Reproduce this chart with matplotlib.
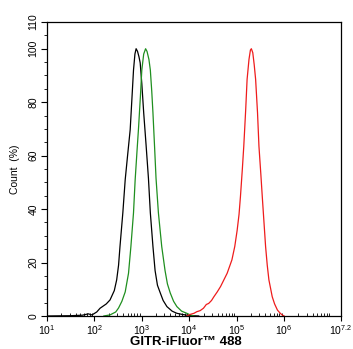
import numpy as np
import matplotlib
matplotlib.use("Agg")
import matplotlib.pyplot as plt
from matplotlib.ticker import FixedLocator, FixedFormatter, LogLocator, MultipleLocator, NullFormatter

plt.rcParams['font.family'] = ['Liberation Sans', 'DejaVu Sans']
plt.rcParams['mathtext.fontset'] = 'custom'
plt.rcParams['mathtext.rm'] = 'Liberation Sans'
plt.rcParams['mathtext.it'] = 'Liberation Sans'

# Data (x as log10 fluorescence, y as Count %)
black_log10 = [1.0, 1.5, 1.75, 1.87, 1.95, 2.05, 2.12, 2.25, 2.33, 2.42, 2.47, 2.51, 2.54, 2.60, 2.65, 2.70,
               2.755, 2.80, 2.825, 2.855, 2.88, 2.91, 2.94, 2.966, 3.00, 3.04, 3.09, 3.14, 3.18, 3.235,
               3.28, 3.33, 3.39, 3.45, 3.53, 3.64, 3.74, 3.85, 3.95, 4.05, 4.2]
black_count = [0, 0.1, 0.3, 0.8, 0.4, 1.5, 2.9, 4.5, 6, 9.5, 13.5, 19, 26, 38.6, 51, 60,
               69.7, 84, 92, 98, 100, 99, 97, 94.7, 87, 76, 64, 51.5, 38.6, 26,
               17, 11.5, 8.6, 5.8, 3.5, 1.8, 1.0, 0.6, 0.3, 0.1, 0]

green_log10 = [2.2, 2.33, 2.45, 2.51, 2.58, 2.65, 2.72, 2.77, 2.825, 2.86, 2.90, 2.93, 2.97, 3.00, 3.04,
               3.08, 3.11, 3.15, 3.18, 3.21, 3.235, 3.27, 3.30, 3.35, 3.42, 3.49, 3.54, 3.60, 3.67,
               3.74, 3.84, 3.95, 4.02, 4.1]
green_count = [0, 0.4, 1.5, 3, 5.5, 9, 16, 26, 38.6, 51, 62, 70, 82, 92, 98,
               100, 99, 96, 92, 84, 76, 63, 51.5, 38.6, 26, 17, 12, 8.6, 5.5,
               3.5, 1.8, 1.0, 0.4, 0]

red_log10 = [3.95, 4.02, 4.10, 4.16, 4.23, 4.30, 4.36, 4.41, 4.47, 4.52, 4.59, 4.66, 4.73, 4.80, 4.85,
             4.90, 4.96, 5.01, 5.05, 5.08, 5.12, 5.15, 5.19, 5.22, 5.26, 5.29, 5.31, 5.34, 5.37,
             5.40, 5.44, 5.47, 5.51, 5.54, 5.58, 5.61, 5.645, 5.68, 5.75, 5.80, 5.86, 5.92, 5.96, 6.0]
red_count = [0, 0.6, 1.0, 1.6, 2.0, 2.9, 4.3, 4.7, 5.8, 7.2, 9, 11, 13.5, 16, 18.5,
             21, 26, 32, 38, 44.7, 55, 63.5, 77, 88.5, 96, 99.5, 100, 98.5, 94,
             88.5, 76, 63.5, 53, 44.7, 34, 26, 19, 13.5, 7.2, 4.5, 2.2, 1.0, 0.4, 0]

x_tick_exp = [1, 2, 3, 4, 5, 6, 7.2]
x_tick_labels = [r'$10^{1}$', r'$10^{2}$', r'$10^{3}$', r'$10^{4}$', r'$10^{5}$', r'$10^{6}$', r'$10^{7.2}$']
y_ticks = [0, 20, 40, 60, 80, 100, 110]

fig = plt.figure(figsize=(3.53, 3.49), dpi=100)
ax = fig.add_axes([0.133, 0.0946, 0.833, 0.8424])

ax.plot(10 ** np.array(black_log10), black_count, color='black', lw=0.9)
ax.plot(10 ** np.array(green_log10), green_count, color='#1f8f1f', lw=0.9)
ax.plot(10 ** np.array(red_log10), red_count, color='#ee1c1c', lw=0.9)

ax.set_xscale('log')
ax.set_xlim(10 ** 1, 10 ** 7.2)
ax.set_ylim(0, 110)

ax.xaxis.set_major_locator(FixedLocator([10 ** e for e in x_tick_exp]))
ax.xaxis.set_major_formatter(FixedFormatter(x_tick_labels))
ax.xaxis.set_minor_locator(LogLocator(base=10, subs=np.arange(2, 10)))
ax.xaxis.set_minor_formatter(NullFormatter())

ax.yaxis.set_major_locator(FixedLocator(y_ticks))
ax.yaxis.set_minor_locator(MultipleLocator(5))

ax.tick_params(axis='x', which='major', direction='out', length=3.5, width=0.8, labelsize=7.5, pad=1.5)
ax.tick_params(axis='x', which='minor', direction='in', length=2.5, width=0.6)
ax.tick_params(axis='y', which='major', direction='out', length=4, width=0.8, labelsize=7.5, pad=2)
ax.tick_params(axis='y', which='minor', direction='out', length=2, width=0.6)
for lbl in ax.get_yticklabels():
    lbl.set_rotation(90)
    lbl.set_va('center')

for s in ax.spines.values():
    s.set_linewidth(0.9)

ax.set_ylabel('Count  (%)', fontsize=7.5, labelpad=6)
fig.text(0.527, 0.02, 'GITR-iFluor™ 488', fontsize=9.5, fontweight='bold',
         ha='center', va='center')

fig.savefig('out.png', dpi=100)
